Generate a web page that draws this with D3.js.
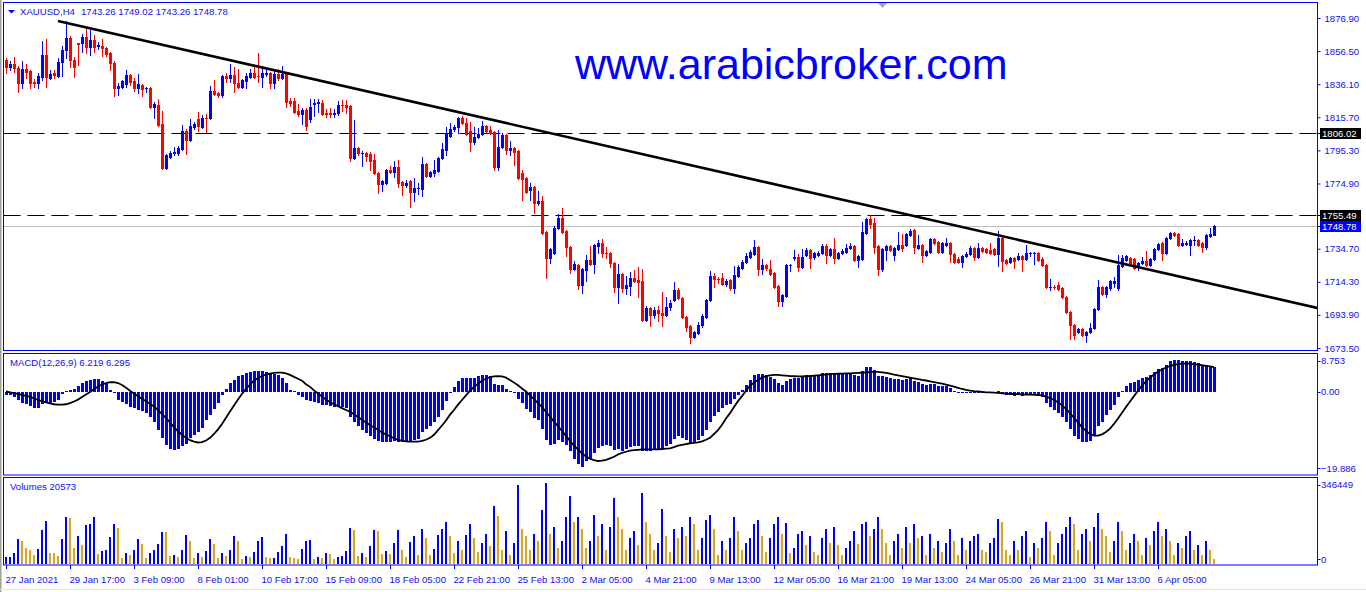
<!DOCTYPE html>
<html><head><meta charset="utf-8">
<script src="https://cdn.jsdelivr.net/npm/d3@7"></script>
<style>
html,body{margin:0;padding:0;background:#fff;overflow:hidden;}
svg{display:block;font-family:"Liberation Sans",Arial,sans-serif;}
</style></head><body>
<svg id="c" width="1366" height="592"></svg>
<script>
// ---------------- DATA ----------------
const symbolTitle = "XAUUSD,H4";
const lastQuote = [1743.26, 1749.02, 1743.26, 1748.78];
const watermark = "www.arabicbroker.com";
// [open, high, low, close] per H4 bar
const candles = [
[1851.0,1852.2,1843.0,1846.7],[1846.7,1850.4,1844.8,1848.5],[1848.5,1852.9,1843.6,1846.1],[1846.1,1847.3,1831.3,1836.8],[1836.8,1850.4,1833.8,1845.5],
[1845.5,1848.5,1839.9,1843.6],[1844.2,1844.8,1833.8,1836.8],[1837.5,1839.3,1834.4,1836.8],[1836.8,1843.0,1833.8,1841.1],[1840.5,1862.7,1838.7,1854.1],
[1854.1,1864.0,1834.4,1840.5],[1839.9,1844.8,1839.3,1842.4],[1843.0,1844.8,1839.9,1841.8],[1841.1,1852.2,1840.5,1849.8],[1849.8,1859.6,1841.1,1857.2],
[1857.2,1875.1,1852.2,1864.6],[1864.6,1865.8,1846.7,1851.0],[1851.0,1852.9,1840.5,1846.7],[1861.5,1861.5,1847.9,1860.9],[1861.5,1867.0,1855.9,1865.2],
[1865.2,1871.4,1855.3,1859.0],[1859.0,1869.5,1854.1,1863.3],[1863.3,1866.4,1855.9,1859.0],[1859.8,1862.1,1857.8,1860.3],[1859.6,1864.0,1853.5,1858.4],
[1858.4,1859.0,1853.5,1854.7],[1855.3,1855.9,1844.8,1849.2],[1849.2,1850.4,1828.8,1833.8],[1833.8,1836.8,1829.4,1835.0],[1834.4,1838.7,1833.8,1838.1],
[1836.2,1844.8,1834.4,1841.8],[1841.8,1842.4,1835.6,1837.5],[1838.1,1839.9,1831.9,1833.8],[1833.8,1842.4,1830.7,1836.2],[1835.6,1836.2,1828.8,1833.1],
[1833.5,1834.4,1831.3,1833.8],[1833.8,1834.4,1821.4,1822.0],[1822.0,1825.1,1815.3,1823.9],[1823.3,1827.0,1810.3,1810.9],[1811.6,1819.6,1783.8,1784.4],
[1784.4,1793.1,1783.8,1792.5],[1791.2,1794.9,1790.6,1793.7],[1793.7,1797.4,1792.5,1794.3],[1793.7,1798.0,1792.5,1796.8],[1796.2,1810.9,1795.5,1807.3],
[1807.3,1808.5,1793.1,1801.7],[1801.7,1814.6,1801.1,1810.3],[1809.7,1812.8,1808.5,1811.6],[1814.6,1819.0,1807.3,1810.3],[1809.7,1817.1,1809.1,1815.3],
[1815.5,1817.7,1806.6,1815.0],[1815.0,1835.0,1814.6,1831.9],[1831.9,1838.7,1829.4,1830.1],[1830.7,1831.3,1828.2,1829.4],[1829.4,1841.8,1828.2,1841.1],
[1841.1,1843.0,1837.5,1839.9],[1839.9,1848.5,1837.5,1841.8],[1841.8,1846.7,1831.3,1836.8],[1836.8,1845.5,1833.8,1834.4],[1834.4,1839.3,1833.8,1838.7],
[1838.1,1843.0,1833.8,1841.1],[1840.5,1845.5,1839.9,1843.0],[1843.0,1846.7,1839.9,1840.5],[1841.4,1855.3,1837.5,1841.1],[1840.5,1846.7,1834.4,1843.0],
[1842.4,1844.8,1841.1,1843.0],[1843.0,1843.6,1833.8,1836.8],[1836.8,1844.2,1833.8,1842.4],[1842.4,1845.5,1838.7,1839.9],[1839.9,1847.3,1839.3,1842.4],
[1842.4,1843.6,1822.0,1825.1],[1825.7,1827.6,1822.7,1824.5],[1825.7,1827.6,1818.3,1819.0],[1819.6,1823.9,1816.5,1817.7],[1817.7,1821.4,1811.6,1820.2],
[1820.2,1821.4,1807.9,1810.3],[1814.6,1827.0,1812.8,1822.0],[1823.9,1827.0,1816.5,1824.5],[1824.5,1827.0,1819.0,1825.1],[1824.5,1826.4,1817.1,1817.7],
[1818.3,1820.8,1815.9,1817.7],[1818.3,1821.4,1815.9,1817.7],[1817.7,1820.8,1815.9,1818.3],[1818.3,1825.7,1817.1,1823.3],[1823.5,1826.4,1819.6,1823.3],
[1823.3,1826.4,1818.3,1822.0],[1822.7,1823.3,1788.8,1790.6],[1790.6,1814.0,1790.0,1796.8],[1796.8,1797.4,1792.5,1793.7],[1793.5,1794.9,1785.7,1793.9],
[1793.7,1794.3,1788.8,1791.8],[1793.1,1794.3,1783.2,1788.8],[1789.4,1793.1,1780.7,1781.4],[1781.4,1782.0,1769.0,1774.6],[1774.6,1777.0,1770.3,1776.4],
[1775.2,1783.8,1774.6,1783.2],[1783.2,1785.7,1781.4,1782.0],[1782.0,1788.8,1778.9,1785.1],[1785.1,1789.4,1772.7,1775.2],[1775.8,1776.4,1767.8,1774.0],
[1774.0,1777.0,1772.7,1775.2],[1776.4,1777.0,1760.4,1769.6],[1769.6,1778.3,1764.1,1772.1],[1771.9,1775.2,1768.4,1772.3],[1771.5,1791.2,1767.2,1786.9],
[1786.9,1787.5,1778.9,1779.5],[1779.5,1782.6,1778.9,1782.0],[1781.4,1789.4,1779.5,1783.2],[1782.6,1791.2,1782.0,1790.6],[1790.6,1799.9,1790.0,1796.2],
[1795.5,1809.7,1792.5,1805.4],[1804.2,1812.2,1803.6,1808.5],[1808.5,1810.9,1807.3,1809.7],[1809.7,1815.9,1806.0,1815.3],[1815.3,1816.5,1811.6,1812.2],
[1812.2,1815.3,1804.8,1805.4],[1807.3,1812.8,1794.9,1800.5],[1800.5,1809.7,1799.2,1803.6],[1803.6,1809.1,1802.9,1805.4],[1805.4,1813.4,1804.8,1810.3],
[1810.3,1810.9,1806.6,1807.3],[1807.9,1810.3,1805.4,1806.0],[1806.6,1807.3,1783.2,1785.1],[1785.1,1807.9,1783.2,1797.4],[1797.4,1806.0,1796.8,1804.8],
[1804.8,1805.4,1793.1,1795.5],[1795.5,1801.1,1792.5,1796.8],[1796.8,1797.4,1786.3,1794.3],[1794.9,1795.5,1777.7,1778.3],[1781.4,1783.2,1764.7,1777.7],
[1778.3,1778.9,1769.0,1769.6],[1770.9,1775.2,1764.7,1772.7],[1772.7,1773.3,1756.7,1762.9],[1762.9,1770.3,1761.6,1764.1],[1764.1,1767.2,1743.8,1744.4],
[1745.0,1745.6,1716.6,1729.0],[1729.0,1735.1,1725.9,1734.5],[1732.0,1748.7,1731.4,1747.5],[1747.5,1756.1,1746.8,1753.6],[1753.6,1759.8,1744.4,1745.0],
[1745.6,1746.2,1730.2,1735.7],[1735.7,1736.4,1719.7,1722.2],[1722.2,1727.1,1721.6,1725.3],[1724.7,1725.3,1709.9,1712.3],[1712.3,1722.8,1707.4,1722.2],
[1721.6,1730.8,1714.8,1727.7],[1727.7,1736.4,1724.7,1725.3],[1725.3,1737.6,1719.7,1737.0],[1736.4,1740.1,1732.0,1738.2],[1738.2,1740.7,1729.6,1732.0],
[1732.3,1735.7,1729.0,1732.0],[1732.0,1732.7,1723.4,1725.9],[1725.9,1726.5,1708.0,1711.1],[1711.1,1725.3,1701.2,1719.1],[1719.1,1719.7,1708.0,1710.5],
[1710.5,1717.9,1706.8,1712.3],[1711.7,1720.3,1706.2,1716.6],[1716.6,1721.6,1714.2,1714.8],[1715.4,1723.4,1704.9,1714.2],[1714.8,1722.2,1690.1,1690.8],
[1690.8,1699.4,1690.1,1698.1],[1698.1,1698.8,1687.1,1693.8],[1693.8,1698.8,1692.0,1696.9],[1696.9,1699.4,1690.1,1695.1],[1695.1,1708.0,1687.1,1693.8],
[1693.8,1704.9,1693.2,1698.8],[1698.8,1703.1,1696.9,1701.2],[1703.1,1714.2,1702.5,1709.2],[1709.2,1710.5,1703.7,1704.3],[1704.3,1704.9,1692.0,1692.6],
[1692.6,1693.2,1684.0,1686.4],[1687.1,1687.7,1676.6,1680.3],[1680.3,1684.0,1679.7,1683.4],[1682.7,1689.5,1682.1,1687.7],[1687.7,1694.5,1686.4,1693.2],
[1692.6,1703.7,1692.0,1703.1],[1703.1,1721.0,1702.5,1717.9],[1717.9,1719.7,1711.1,1716.0],[1716.2,1717.3,1713.6,1715.8],[1716.6,1719.7,1712.3,1712.9],
[1712.9,1716.0,1711.7,1714.8],[1715.4,1716.0,1709.2,1710.5],[1710.5,1724.0,1707.4,1718.5],[1717.9,1724.7,1717.3,1723.4],[1722.8,1727.7,1722.2,1726.5],
[1726.5,1732.0,1725.9,1730.2],[1729.6,1733.9,1729.0,1732.7],[1731.4,1740.1,1730.8,1735.7],[1735.7,1736.4,1718.5,1722.2],[1722.2,1728.4,1719.1,1724.7],
[1724.7,1725.3,1721.6,1722.8],[1722.2,1727.7,1718.5,1719.1],[1719.7,1720.3,1710.5,1711.1],[1711.7,1712.3,1699.4,1702.5],[1702.5,1706.8,1699.4,1706.2],
[1705.5,1725.3,1704.9,1724.7],[1724.5,1725.3,1721.0,1724.9],[1729.0,1733.9,1727.7,1729.6],[1729.6,1731.4,1721.0,1723.4],[1723.4,1734.5,1722.8,1729.6],
[1730.8,1735.1,1730.2,1733.9],[1733.9,1734.5,1722.8,1729.0],[1729.6,1732.7,1728.4,1732.0],[1730.8,1733.3,1730.2,1732.0],[1732.0,1737.6,1731.4,1736.4],
[1736.4,1737.6,1725.9,1730.8],[1730.8,1735.1,1730.2,1734.5],[1734.5,1741.3,1725.9,1729.0],[1729.0,1732.7,1728.4,1732.0],[1732.0,1734.5,1731.4,1733.3],
[1732.7,1737.6,1732.0,1735.1],[1735.1,1738.2,1734.5,1736.4],[1736.4,1737.0,1727.1,1727.7],[1727.7,1730.8,1723.4,1730.2],[1728.4,1751.2,1727.7,1745.0],
[1744.4,1753.6,1743.8,1753.0],[1753.0,1755.5,1747.5,1749.9],[1750.5,1753.6,1732.0,1735.7],[1736.4,1737.0,1718.5,1722.2],[1722.2,1735.1,1721.0,1734.5],
[1733.9,1737.0,1727.7,1736.4],[1736.4,1737.0,1733.3,1733.9],[1730.8,1735.7,1727.7,1735.1],[1734.5,1745.0,1733.9,1737.0],[1737.0,1743.8,1733.3,1735.1],
[1737.0,1744.4,1736.4,1743.8],[1743.1,1746.8,1742.5,1745.6],[1746.2,1746.8,1732.0,1735.7],[1735.1,1743.1,1734.5,1737.0],[1737.0,1737.6,1726.5,1730.8],
[1730.8,1733.9,1730.2,1733.3],[1732.7,1741.3,1732.0,1740.7],[1740.7,1741.3,1737.6,1738.2],[1738.8,1739.4,1732.0,1732.7],[1732.7,1738.8,1732.0,1738.2],
[1737.0,1741.3,1736.4,1738.2],[1738.2,1738.8,1726.5,1731.4],[1731.4,1732.0,1725.9,1726.5],[1728.4,1729.6,1725.9,1726.5],[1726.5,1730.8,1723.4,1730.2],
[1730.2,1732.7,1729.6,1731.4],[1731.4,1736.4,1730.8,1735.1],[1735.1,1735.7,1727.7,1729.6],[1729.6,1738.2,1729.0,1735.1],[1735.1,1735.7,1732.7,1733.3],
[1734.5,1735.1,1732.0,1732.7],[1733.9,1738.2,1731.4,1732.0],[1734.5,1735.1,1730.8,1731.4],[1731.4,1745.6,1724.0,1741.3],[1741.3,1741.9,1721.0,1727.1],
[1727.7,1728.4,1725.3,1725.9],[1726.5,1729.6,1725.9,1729.0],[1729.0,1729.6,1722.8,1727.1],[1728.4,1732.0,1727.7,1730.2],[1730.2,1730.8,1721.0,1728.4],
[1728.4,1737.0,1727.7,1732.0],[1731.8,1732.7,1730.2,1732.2],[1731.8,1732.7,1725.3,1732.2],[1732.0,1732.7,1727.1,1727.7],[1728.4,1729.6,1724.0,1724.7],
[1724.7,1725.3,1710.5,1711.1],[1710.9,1716.0,1709.2,1711.3],[1711.3,1712.3,1709.9,1710.9],[1712.3,1714.2,1709.2,1709.9],[1710.5,1711.1,1704.3,1704.9],
[1704.9,1705.5,1695.1,1695.7],[1695.7,1696.3,1679.0,1687.7],[1687.7,1688.3,1679.0,1681.5],[1683.4,1685.8,1682.7,1685.2],[1685.2,1685.8,1680.9,1681.5],
[1681.5,1684.0,1677.2,1683.4],[1683.4,1688.9,1682.7,1685.8],[1685.8,1698.1,1685.2,1697.5],[1697.5,1715.4,1696.9,1711.1],[1711.1,1711.7,1706.2,1706.8],
[1706.8,1711.7,1704.9,1711.1],[1710.5,1715.4,1709.2,1714.8],[1713.6,1717.3,1711.1,1714.8],[1710.5,1730.8,1709.2,1724.7],[1724.0,1730.8,1723.4,1729.0],
[1727.7,1730.8,1727.1,1730.2],[1729.0,1729.6,1725.3,1725.9],[1728.4,1729.0,1722.2,1722.8],[1723.4,1726.5,1721.6,1725.9],[1725.9,1729.6,1725.3,1727.1],
[1727.1,1733.3,1724.0,1724.7],[1724.7,1729.0,1724.0,1728.4],[1728.4,1735.1,1727.7,1734.5],[1734.5,1738.2,1733.9,1737.6],[1738.2,1738.8,1727.7,1732.0],
[1732.0,1741.9,1731.4,1741.3],[1741.3,1745.0,1740.7,1744.4],[1744.4,1745.0,1742.5,1743.1],[1743.8,1744.4,1736.4,1737.0],[1737.0,1740.7,1736.4,1738.2],
[1737.6,1739.4,1737.0,1738.2],[1737.0,1740.7,1730.8,1740.1],[1739.9,1742.5,1737.0,1740.3],[1740.1,1740.7,1736.4,1737.0],[1738.2,1738.8,1732.7,1735.7],
[1735.7,1743.8,1734.5,1743.1],[1742.5,1747.5,1741.9,1743.8],[1743.26,1749.02,1743.26,1748.78]
];
// tick volume, thousands
const volumesK = [
28,28.5,45,109,97,70,62,38,66,147, 186,49,48,34,109,203,197,70,118,80,
165,169,203,42,55,59,115,169,155,24, 45,38,62,109,87,24,45,62,85,139,
135,34,38,28,62,123,97,24,49,28, 55,109,85,24,45,34,62,118,97,20,
34,28,51,97,114,28,24,25,51,76, 130,28,24,20,66,97,104,20,28,24,
45,44,20,28,34,55,155,147,34,45, 28,76,147,143,42,55,42,90,147,60,
30,95,120,40,150,110,40,65,125,150, 180,120,45,100,60,125,170,110,50,90,
130,75,250,205,60,140,40,90,338,150, 120,60,130,100,230,346.449,130,160,70,100,
200,290,180,200,150,70,100,210,120,170, 60,160,283,200,150,60,110,140,80,304,
180,130,60,90,237,120,50,150,110,160, 120,200,170,60,110,190,210,150,40,100,
60,110,200,140,60,90,110,170,190,120, 50,110,170,200,130,175,45,70,130,140,
80,120,50,40,110,150,90,160,80,40, 70,100,140,85,170,180,120,150,199,150,
90,40,100,130,70,160,90,170,110,120, 40,130,70,100,50,90,150,100,40,110,
60,100,120,130,60,50,90,110,194,180, 60,40,100,60,120,140,30,90,70,110,
180,140,40,90,130,160,200,170,60,130, 150,100,160,220,150,120,50,100,180,140,
60,90,130,100,40,110,80,140,180,120, 150,100,40,90,70,120,140,60,80,40,
100,60,20.573
];
const macdHist = [
-0.8,-1.0,-1.5,-2.2,-3.0,-3.2,-3.8,-4.3,-4.4,-3.2, -2.8,-2.9,-2.7,-2.2,-0.6,0.2,0.4,0.6,1.3,2.2,
2.7,3.1,3.3,3.3,2.8,2.1,0.5,-0.4,-2.3,-2.8, -3.3,-4.0,-4.4,-4.7,-5.1,-5.6,-6.6,-8.0,-10.0,-12.0,
-13.8,-14.8,-15.2,-14.8,-14.0,-13.6,-12.1,-11.3,-10.4,-9.4, -7.4,-6.0,-4.6,-3.0,-0.9,0.6,2.3,3.1,3.9,4.4,
4.7,5.1,5.3,5.3,5.3,5.1,4.8,4.6,4.2,3.4, 2.2,0.5,0.1,-0.8,-1.5,-2.2,-2.5,-2.8,-3.0,-3.4,
-3.6,-3.8,-4.0,-4.0,-4.0,-4.2,-6.5,-8.0,-9.0,-10.0, -10.8,-11.5,-12.2,-12.9,-13.1,-13.0,-13.0,-12.7,-13.0,-13.1,
-12.9,-13.0,-12.5,-12.2,-10.5,-9.8,-8.9,-8.0,-6.5,-4.8, -2.5,-0.5,1.2,2.8,3.4,3.6,3.4,3.6,4.0,4.4,
4.2,3.9,2.0,1.6,1.6,0.6,0.2,-0.3,-2.0,-3.0, -4.5,-5.2,-6.8,-7.5,-9.8,-12.5,-13.8,-13.5,-12.6,-13.0,
-13.8,-15.5,-17.5,-18.8,-19.5,-18.0,-17.6,-15.8,-14.6,-14.2, -13.9,-14.2,-15.2,-15.0,-15.3,-15.0,-14.5,-14.2,-14.0,-15.5,
-15.3,-15.4,-15.2,-15.0,-14.9,-14.2,-13.6,-12.2,-11.6,-12.0, -12.6,-13.5,-13.2,-12.6,-11.6,-10.0,-7.8,-6.3,-5.2,-4.3,
-3.6,-3.2,-2.0,-0.8,0.5,1.8,3.0,4.2,4.5,4.5, 4.2,3.8,3.2,2.3,1.8,2.6,3.2,3.5,3.6,3.9,
4.2,4.2,4.3,4.4,4.7,4.7,4.8,4.6,4.6,4.6, 4.7,4.9,4.3,4.1,5.3,6.3,6.4,5.5,4.0,3.9,
3.7,3.4,3.2,3.2,3.0,3.2,3.4,2.6,2.4,1.9, 1.8,2.0,1.9,1.4,1.4,1.3,0.8,0.2,-0.2,-0.3,
-0.3,0.0,-0.3,-0.1,-0.2,-0.3,-0.4,-0.5,0.2,-0.6, -1.0,-1.0,-1.1,-1.0,-1.1,-0.9,-0.8,-0.7,-1.0,-1.5,
-3.0,-4.0,-4.8,-5.5,-6.5,-8.0,-9.8,-11.4,-12.2,-13.0, -13.2,-12.8,-11.5,-9.0,-7.8,-6.2,-4.8,-3.5,-1.5,0.2,
1.5,2.2,2.5,3.0,3.5,3.8,4.3,5.0,5.8,6.0, 6.8,7.8,8.2,8.1,8.0,7.9,7.8,7.6,7.3,6.9,
6.8,6.5,6.219
];
const macdSignal = [
0.0,-0.2,-0.4,-0.6,-0.9,-1.1,-1.4,-1.8,-2.2,-2.5, -2.8,-3.1,-3.3,-3.4,-3.4,-3.3,-3.0,-2.6,-2.1,-1.4,
-0.8,-0.1,0.6,1.3,1.8,2.2,2.4,2.4,2.2,1.7, 1.0,0.2,-0.5,-1.2,-1.9,-2.5,-3.2,-3.9,-4.8,-5.8,
-6.9,-8.0,-9.2,-10.3,-11.2,-12.0,-12.6,-13.0,-13.2,-13.1, -12.7,-12.0,-11.0,-9.8,-8.4,-6.8,-5.2,-3.6,-2.1,-0.6,
0.7,1.8,2.8,3.5,4.0,4.4,4.6,4.8,4.9,4.9, 4.7,4.3,3.8,3.3,2.8,1.9,1.2,0.3,-0.5,-1.3,
-2.1,-2.8,-3.3,-3.8,-4.3,-4.8,-5.2,-5.9,-6.6,-7.3, -8.0,-8.7,-9.3,-9.9,-10.6,-11.1,-11.6,-12.1,-12.5,-12.7,
-12.9,-13.0,-13.0,-13.0,-12.8,-12.5,-12.0,-11.2,-10.0,-8.8, -7.5,-6.0,-4.8,-3.4,-2.2,-1.0,0.2,1.2,2.0,2.8,
3.3,3.7,3.9,4.0,3.9,3.6,3.0,2.3,1.6,0.8, 0.0,-1.0,-2.0,-3.0,-4.0,-5.3,-6.5,-7.8,-9.0,-10.2,
-11.5,-12.8,-14.0,-15.0,-16.0,-16.8,-17.4,-17.8,-18.0,-17.9, -17.7,-17.3,-16.9,-16.3,-15.9,-15.6,-15.3,-15.2,-15.1,-15.0,
-15.0,-15.0,-15.0,-15.0,-14.9,-14.8,-14.7,-14.4,-14.0,-13.8, -13.6,-13.4,-13.3,-13.2,-12.9,-12.5,-12.0,-11.0,-10.0,-8.6,
-7.0,-5.6,-4.0,-2.5,-1.2,0.2,1.5,2.3,3.0,3.6, 4.0,4.2,4.3,4.3,4.2,4.1,4.0,3.95,3.9,3.9,
3.95,4.0,4.1,4.2,4.3,4.4,4.5,4.55,4.6,4.65, 4.7,4.7,4.75,4.8,4.85,4.95,5.05,5.1,5.1,4.95,
4.8,4.6,4.4,4.2,4.0,3.8,3.6,3.4,3.2,3.0, 2.85,2.65,2.45,2.25,2.05,1.8,1.55,1.25,0.95,0.65,
0.4,0.25,0.1,0.0,-0.1,-0.2,-0.25,-0.3,-0.35,-0.45, -0.55,-0.6,-0.65,-0.7,-0.75,-0.8,-0.8,-0.85,-0.9,-1.0,
-1.3,-1.7,-2.2,-2.8,-3.6,-4.5,-5.6,-6.8,-8.0,-9.2, -10.2,-11.0,-11.4,-11.4,-11.1,-10.5,-9.6,-8.4,-7.0,-5.5,
-4.0,-2.6,-1.2,0.2,1.5,2.6,3.6,4.4,5.1,5.7, 6.2,6.6,6.9,7.1,7.2,7.25,7.2,7.1,6.95,6.8,
6.65,6.5,6.295
];
const priceTicks = [1876.90,1856.50,1836.10,1815.70,1795.30,1774.90,1734.70,1714.30,1693.90,1673.50];
const macdTicks = [8.753, 0, -19.886];
const volumeTicks = [346449, 0];
const timeLabelBars = [0,16,32,48,64,80,96,112,128,144,160,176,192,208,224,240,256,272,288];
const timeLabels = ["27 Jan 2021","29 Jan 17:00","3 Feb 09:00","8 Feb 01:00","10 Feb 17:00","15 Feb 09:00","18 Feb 05:00","22 Feb 21:00","25 Feb 13:00","2 Mar 05:00","4 Mar 21:00","9 Mar 13:00","12 Mar 05:00","16 Mar 21:00","19 Mar 13:00","24 Mar 05:00","26 Mar 21:00","31 Mar 13:00","6 Apr 05:00"];
const levelPrices = [1806.02, 1755.49];
const bidPrice = 1748.78;
const trendAnchors = [[13, 1875.1], [300, 1713.8]];

// ---------------- LAYOUT ----------------
const BLUE = "#0000ff", RED = "#ff0000", GOLD = "#daa520", TXT = "#1010f0";
const L = 3.5, R = 1317.5;
const P = {top: 2.5, bottom: 350.5};
const M = {top: 353.5, bottom: 475};
const V = {top: 477.5, bottom: 565};
const FS = 9.6;

const svg = d3.select("#c");
const n = candles.length;
const x = d3.scaleLinear().domain([0, n - 1]).range([6, 6 + 4 * (n - 1)]);
const yP = d3.scaleLinear().domain([1673.5, 1876.9]).range([348, 18]);
const yM = d3.scaleLinear().domain([-19.886, 8.753]).range([468.3, 357.7]);
const yV = d3.scaleLinear().domain([0, 346.449]).range([564, 483]);

// window borders
svg.append("rect").attr("x",0).attr("y",0).attr("width",1.5).attr("height",592).attr("fill","#a0a0a0");
svg.append("line").attr("x1",0).attr("x2",1366).attr("y1",589.5).attr("y2",589.5).attr("stroke","#e4e4e4");

const defs = svg.append("defs");
defs.append("clipPath").attr("id","clipP").append("rect").attr("x",L).attr("y",P.top).attr("width",R-L).attr("height",P.bottom-P.top);

// watermark
svg.append("text").attr("x",575).attr("y",79).attr("font-size",43).attr("fill",BLUE)
  .attr("font-family","'Liberation Sans',Arial,sans-serif").text(watermark);

// horizontal levels
const gP = svg.append("g").attr("clip-path","url(#clipP)");
gP.selectAll("line.lvl").data(levelPrices).join("line").attr("class","lvl")
  .attr("x1",L).attr("x2",R).attr("y1",d=>Math.round(yP(d))+0.5).attr("y2",d=>Math.round(yP(d))+0.5)
  .attr("stroke","#000").attr("stroke-width",1.2).attr("stroke-dasharray","17,7");
gP.append("line").attr("x1",L).attr("x2",R).attr("y1",Math.round(yP(bidPrice))+0.5).attr("y2",Math.round(yP(bidPrice))+0.5)
  .attr("stroke","#c0c0c0").attr("stroke-width",1);

// candles
const cg = gP.append("g").attr("shape-rendering","crispEdges");
candles.forEach((c, i) => {
  const [o,h,l,cl] = c;
  const cx = Math.round(x(i));
  const col = cl >= o ? BLUE : RED;
  const yh = Math.round(yP(h)), yl = Math.round(yP(l));
  cg.append("rect").attr("x",cx).attr("y",yh).attr("width",1).attr("height",Math.max(1,yl-yh+1)).attr("fill",col);
  const yt = Math.round(yP(Math.max(o,cl))), yb = Math.round(yP(Math.min(o,cl)));
  cg.append("rect").attr("x",cx-1).attr("y",yt).attr("width",3).attr("height",Math.max(1,yb-yt+1)).attr("fill",col);
});

// trend line (ray)
const slope = (trendAnchors[1][1]-trendAnchors[0][1])/(trendAnchors[1][0]-trendAnchors[0][0]);
const endBar = x.invert(R + 5);
gP.append("line").attr("x1",x(trendAnchors[0][0])).attr("y1",yP(trendAnchors[0][1]))
  .attr("x2",x(endBar)).attr("y2",yP(trendAnchors[0][1] + slope*(endBar-trendAnchors[0][0])))
  .attr("stroke","#000").attr("stroke-width",2.6);

// header
svg.append("path").attr("d","M8,10 L15,10 L11.5,13.5 Z").attr("fill",BLUE);
svg.append("text").attr("x",20).attr("y",15).attr("font-size",FS).attr("fill",TXT).text(symbolTitle);
svg.append("text").attr("x",81).attr("y",15).attr("font-size",FS).attr("fill",TXT).text(lastQuote.map(v=>v.toFixed(2)).join(" "));
// shift marker
svg.append("path").attr("d","M878,3 L887,3 L882.5,8 Z").attr("fill","#a8a8a8");

// panel frames
[[P.top,P.bottom],[M.top,M.bottom],[V.top,V.bottom]].forEach(([t,b])=>{
  svg.append("rect").attr("x",L).attr("y",t).attr("width",R-L).attr("height",b-t)
    .attr("fill","none").attr("stroke",BLUE).attr("stroke-width",1);
});

// price axis
const ax = svg.append("g").attr("transform",`translate(${R},0)`)
  .call(d3.axisRight(yP).tickValues(priceTicks).tickSize(3).tickPadding(4).tickFormat(d3.format(".2f")));
ax.select(".domain").remove();
ax.selectAll("line").attr("stroke",BLUE);
ax.selectAll("text").attr("fill",TXT).attr("font-size",FS).attr("font-family","'Liberation Sans',Arial,sans-serif");

// price label boxes
function priceBox(v, bg){
  const yy = Math.round(yP(v));
  svg.append("line").attr("x1",R).attr("x2",R+3).attr("y1",yy+0.5).attr("y2",yy+0.5).attr("stroke","#000");
  svg.append("rect").attr("x",1320).attr("y",yy-5).attr("width",41).attr("height",11).attr("fill",bg);
  svg.append("text").attr("x",1322).attr("y",yy+4).attr("font-size",FS).attr("fill","#fff").text(v.toFixed(2));
}
levelPrices.forEach(v=>priceBox(v,"#000"));
priceBox(bidPrice, BLUE);

// MACD
const mg = svg.append("g").attr("shape-rendering","crispEdges");
macdHist.forEach((v,i)=>{
  const cx = Math.round(x(i));
  const y0 = Math.round(yM(0)), y1 = Math.round(yM(v));
  mg.append("rect").attr("x",cx-1).attr("y",Math.min(y0,y1)).attr("width",3).attr("height",Math.max(1,Math.abs(y1-y0))).attr("fill",BLUE);
});
svg.append("path").datum(macdSignal).attr("fill","none").attr("stroke","#000").attr("stroke-width",1.8)
  .attr("d", d3.line().x((d,i)=>x(i)).y(d=>yM(d)));
svg.append("text").attr("x",10).attr("y",366).attr("font-size",FS).attr("fill",TXT)
  .text(`MACD(12,26,9) ${macdHist[n-1].toFixed(3)} ${macdSignal[n-1].toFixed(3)}`);

// Volumes
const vg = svg.append("g").attr("shape-rendering","crispEdges");
volumesK.forEach((v,i)=>{
  const cx = Math.round(x(i));
  const up = i===0 ? true : v > volumesK[i-1];
  const yt = Math.round(yV(v));
  vg.append("rect").attr("x",cx-1).attr("y",yt).attr("width",2).attr("height",Math.max(1,564-yt)).attr("fill",up?BLUE:GOLD);
});
svg.append("text").attr("x",10).attr("y",490).attr("font-size",FS).attr("fill",TXT)
  .text(`Volumes ${Math.round(volumesK[n-1]*1000)}`);

// sub-panel axes (labels clamped inside their panel)
function subAxis(ticks, scale, panel, fmt){
  ticks.forEach(t=>{
    const yy = Math.max(panel.top+7, Math.min(panel.bottom-6, scale(t)));
    svg.append("line").attr("x1",R).attr("x2",R+3).attr("y1",Math.round(yy)+0.5).attr("y2",Math.round(yy)+0.5).attr("stroke",BLUE);
    svg.append("text").attr("x",1321).attr("y",yy+3.5).attr("font-size",FS).attr("fill",TXT).text(fmt(t));
  });
}
subAxis(macdTicks, yM, M, d => d===0 ? "0.00" : d3.format(".3f")(d));
subAxis(volumeTicks, v=>yV(v/1000), V, d => String(d));

// time axis
const tx = svg.append("g").attr("transform",`translate(0,${V.bottom})`)
  .call(d3.axisBottom(x).tickValues(timeLabelBars).tickSize(4).tickFormat((d,i)=>timeLabels[i]));
tx.select(".domain").remove();
tx.selectAll("line").attr("stroke",BLUE);
tx.selectAll("text").attr("text-anchor","start").attr("x",-1).attr("y",18).attr("dy",0)
  .attr("fill",TXT).attr("font-size",FS).attr("font-family","'Liberation Sans',Arial,sans-serif");
</script>
</body></html>
